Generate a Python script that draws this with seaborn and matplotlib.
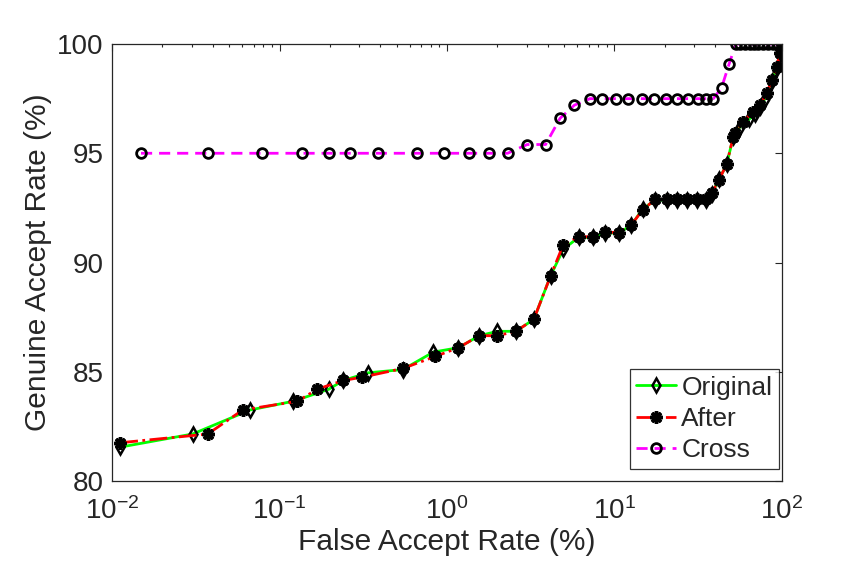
import numpy as np
import pandas as pd
import matplotlib
matplotlib.use("Agg")
import matplotlib.pyplot as plt
import seaborn as sns

# values (FAR in %, GAR in %)
far_original = [0.0112, 0.0303, 0.0667, 0.121, 0.197, 0.24, 0.337, 0.545, 0.83, 1.17,
                1.56, 2.0, 2.58, 3.3, 4.16, 4.94, 6.1, 7.4, 8.8, 10.6,
                12.6, 14.7, 17.5, 20.5, 23.7, 27.2, 31, 35, 38, 42.1,
                46.8, 51.2, 56.2, 63.5, 69, 74, 79.2, 86.8, 92.9, 97.2, 100]
gar_original = [81.55, 82.15, 83.25, 83.65, 84.2, 84.6, 84.95, 85.1, 85.9, 86.1,
                86.65, 86.85, 86.85, 87.4, 89.4, 90.6, 91.15, 91.15, 91.35, 91.35,
                91.7, 92.45, 92.85, 92.85, 92.85, 92.85, 92.85, 92.85, 93.15, 93.8,
                94.5, 95.75, 96.2, 96.55, 96.8, 97.1, 97.5, 98.3, 98.9, 99.5, 100]

far_after = [0.0112, 0.0373, 0.0603, 0.128, 0.168, 0.24, 0.311, 0.545, 0.851, 1.17,
             1.56, 2.0, 2.58, 3.3, 4.16, 4.94, 6.1, 7.4, 8.8, 10.6,
             12.6, 14.7, 17.5, 20.5, 23.7, 27.2, 31, 35, 38, 42.1,
             46.8, 51.2, 52.4, 58.7, 67.4, 74, 81, 86.8, 92.9, 97.2, 100]
gar_after = [81.75, 82.15, 83.25, 83.65, 84.2, 84.6, 84.75, 85.15, 85.7, 86.1,
             86.65, 86.65, 86.85, 87.4, 89.4, 90.8, 91.18, 91.18, 91.4, 91.36,
             91.72, 92.4, 92.89, 92.89, 92.89, 92.89, 92.89, 92.89, 93.17, 93.78,
             94.51, 95.76, 95.91, 96.44, 96.9, 97.2, 97.74, 98.35, 98.96, 99.57, 100]

far_cross = [0.0149, 0.0372, 0.0782, 0.137, 0.198, 0.264, 0.389, 0.659, 0.964, 1.36,
             1.79, 2.30, 3.01, 3.88, 4.73, 5.76, 7.14, 8.46, 10.2, 12.0,
             14.6, 17.2, 20.3, 23.7, 27.6, 31.6, 35.2, 38.9, 43.6, 48.4,
             53.1, 56, 60, 64, 68, 72, 77, 82, 88, 95, 100]
gar_cross = [95, 95, 95, 95, 95, 95, 95, 95, 95, 95,
             95, 95, 95.4, 95.4, 96.6, 97.2, 97.5, 97.5, 97.5, 97.5,
             97.5, 97.5, 97.5, 97.5, 97.5, 97.5, 97.5, 97.5, 98.0, 99.1,
             100, 100, 100, 100, 100, 100, 100, 100, 100, 100, 100]

sns.set_theme(style="white")
plt.rcParams['font.family'] = ['Liberation Sans', 'DejaVu Sans']
plt.rcParams['mathtext.fontset'] = 'custom'
plt.rcParams['mathtext.rm'] = 'Liberation Sans'
plt.rcParams['mathtext.it'] = 'Liberation Sans'
txt = "#262626"

fig = plt.figure(figsize=(8.63, 5.68), dpi=100)
ax = fig.add_axes([0.1298, 0.1532, 0.7763, 0.7693])

sns.lineplot(x=far_original, y=gar_original, ax=ax, sort=False, estimator=None,
             color="#00ff00", linestyle="-", linewidth=2, marker="d", markersize=7,
             markerfacecolor="none", markeredgecolor="black", markeredgewidth=1.8,
             label="Original")
sns.lineplot(x=far_after, y=gar_after, ax=ax, sort=False, estimator=None,
             color="red", linestyle="-.", linewidth=2, marker=(8, 2, 0), markersize=9,
             markerfacecolor="black", markeredgecolor="black", markeredgewidth=2.5,
             label="After")
sns.lineplot(x=far_cross, y=gar_cross, ax=ax, sort=False, estimator=None,
             color="#ff00ff", linestyle=(0, (4, 2.5)), linewidth=2, marker="o", markersize=7,
             markerfacecolor="none", markeredgecolor="black", markeredgewidth=2,
             label="Cross")

ax.set_xscale("log")
ax.set_xlim(1e-2, 1e2)
ax.set_ylim(80, 100)
ax.set_yticks([80, 85, 90, 95, 100])
ax.set_xlabel("False Accept Rate (%)", fontsize=21.5, color=txt, labelpad=2)
ax.set_ylabel("Genuine Accept Rate (%)", fontsize=21.5, color=txt, labelpad=4)

ax.tick_params(which="both", direction="in", top=True, right=True, colors=txt,
               labelsize=20, width=0.8)
ax.tick_params(which="major", length=5)
ax.tick_params(which="minor", length=2.5)
ax.tick_params(axis="x", which="major", pad=12)
ax.tick_params(axis="y", which="major", pad=6)
for s in ax.spines.values():
    s.set_color(txt)
    s.set_linewidth(0.9)

leg = ax.legend(loc="lower right", bbox_to_anchor=(0.9955, 0.0275), borderaxespad=0,
                fontsize=19, handlelength=1.5, handletextpad=0.2, labelspacing=0.28,
                borderpad=0.25, fancybox=False, frameon=True)
leg.get_frame().set_edgecolor("black")
leg.get_frame().set_linewidth(0.9)

fig.savefig("out.png", dpi=100)
